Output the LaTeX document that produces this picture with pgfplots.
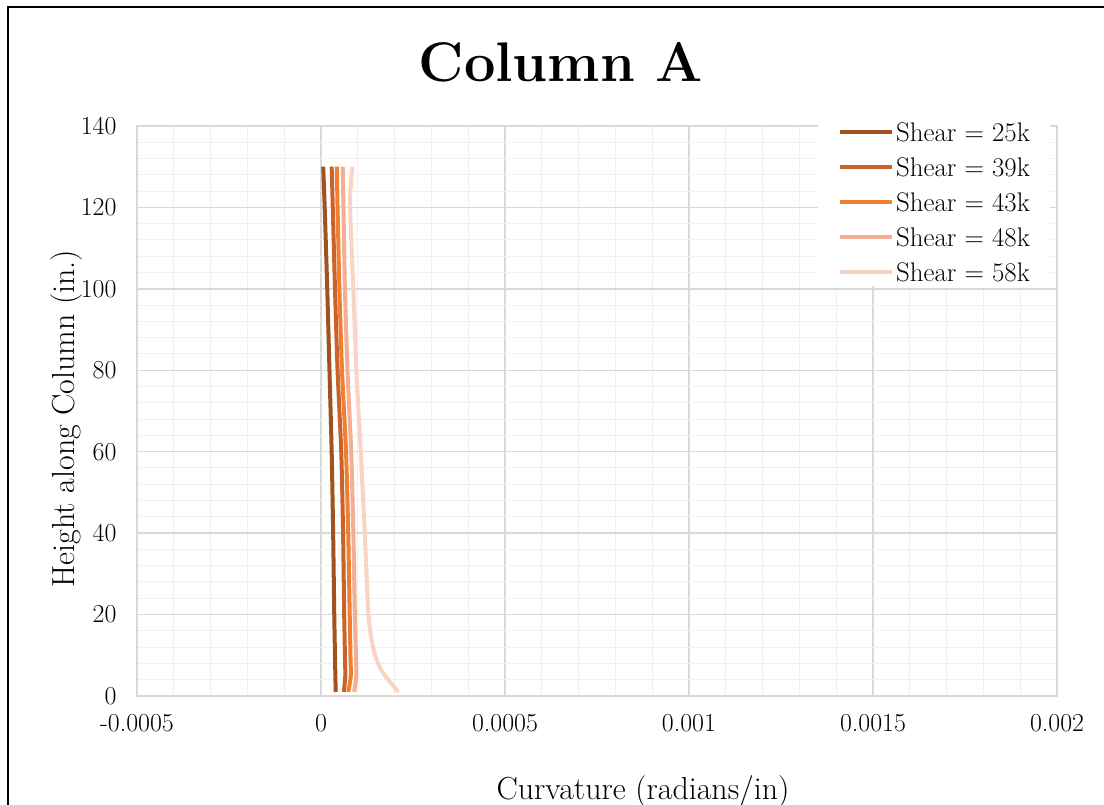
\documentclass[border=0pt]{standalone}
\usepackage{fontspec}
\usepackage{pgfplots}
\pgfplotsset{compat=1.18}
\definecolor{cA}{HTML}{A0521F}
\definecolor{cB}{HTML}{C8642A}
\definecolor{cC}{HTML}{EE7F33}
\definecolor{cD}{HTML}{F3AE93}
\definecolor{cE}{HTML}{F9D3C3}
\definecolor{gmaj}{HTML}{D9D9D9}
\definecolor{gmin}{HTML}{F0F0F0}
\begin{document}
\begin{tikzpicture}[x=1bp,y=1bp]
\fill[white] (0,0) rectangle (1104,805);
\begin{axis}[
  at={(137bp,109bp)}, anchor=south west,
  scale only axis, width=920bp, height=570bp,
  xmin=-0.0005, xmax=0.002, ymin=0, ymax=140,
  xtick={-0.0005,0,0.0005,0.001,0.0015,0.002},
  xticklabels={-0.0005,0,0.0005,0.001,0.0015,0.002},
  ytick={0,20,40,60,80,100,120,140},
  yticklabels={0,20,40,60,80,100,120,140},
  scaled x ticks=false,
  minor x tick num=4, minor y tick num=4,
  grid=both,
  major grid style={draw=gmaj, line width=1.4bp},
  minor grid style={draw=gmin, line width=1bp},
  axis line style={draw=gmaj, line width=1.4bp},
  major tick length=0pt, minor tick length=0pt,
  tick style={draw=none},
  xticklabel style={font=\fontsize{26}{28}\selectfont, anchor=north, yshift=-15bp},
  yticklabel style={font=\fontsize{26}{28}\selectfont, anchor=east, xshift=-17bp},
  legend style={at={(0.7402,1.0158)}, anchor=north west, draw=none, fill=white,
    font=\fontsize{27}{29}\selectfont, row sep=16bp, inner xsep=20bp, inner ysep=5bp,
    nodes={inner sep=0pt, text height=19bp, text depth=0bp},
    /tikz/every odd column/.append style={column sep=2bp}},
  legend cell align=left,
  legend image code/.code={\draw[#1] (0bp,0bp) -- (52bp,0bp);},
  every axis plot/.append style={line width=4bp, smooth, tension=0.4},
]
\addplot[color=cA] coordinates {
(6e-6,130) (1.0e-5,120) (1.7e-5,100) (2.3e-5,80) (2.9e-5,60) (3.3e-5,40) (3.6e-5,20) (3.8e-5,10) (3.9e-5,5) (4.0e-5,1)};
\addlegendentry{Shear = 25k}
\addplot[color=cB] coordinates {
(2.9e-5,130) (3.2e-5,120) (3.8e-5,100) (4.5e-5,80) (5.5e-5,60) (6.0e-5,40) (6.3e-5,20) (6.5e-5,10) (6.6e-5,5) (6.2e-5,1)};
\addlegendentry{Shear = 39k}
\addplot[color=cC] coordinates {
(4.3e-5,130) (4.5e-5,120) (5.0e-5,100) (5.7e-5,80) (6.8e-5,60) (7.4e-5,40) (7.8e-5,20) (8.0e-5,10) (8.1e-5,5) (7.4e-5,1)};
\addlegendentry{Shear = 43k}
\addplot[color=cD] coordinates {
(5.9e-5,130) (6.1e-5,120) (6.5e-5,100) (7.2e-5,80) (8.2e-5,60) (8.8e-5,40) (9.2e-5,20) (9.5e-5,10) (9.6e-5,5) (9.0e-5,1)};
\addlegendentry{Shear = 48k}
\addplot[color=cE] coordinates {
(8.5e-5,130) (7.9e-5,122) (8.3e-5,110) (8.8e-5,100) (9.6e-5,80) (1.08e-4,60) (1.19e-4,40) (1.25e-4,27) (1.29e-4,20) (1.35e-4,15) (1.47e-4,10) (1.60e-4,7) (1.74e-4,5) (1.96e-4,2.5) (2.10e-4,1)};
\addlegendentry{Shear = 58k}
\end{axis}
\node[anchor=base, font=\fontsize{56}{60}\selectfont\bfseries\addfontfeature{LetterSpace=6}] at (561,723.3) {Column A};
\node[anchor=base, font=\fontsize{32}{34}\selectfont] at (643,5) {Curvature (radians/in)};
\node[anchor=base, rotate=90, font=\fontsize{32}{34}\selectfont] at (74,386.5) {Height along Column (in.)};
\draw[black, line width=2bp] (7.5,-20) -- (7.5,797.5) -- (1130,797.5);
\pgfresetboundingbox
\useasboundingbox (0,0) rectangle (1104,805);
\end{tikzpicture}
\end{document}
